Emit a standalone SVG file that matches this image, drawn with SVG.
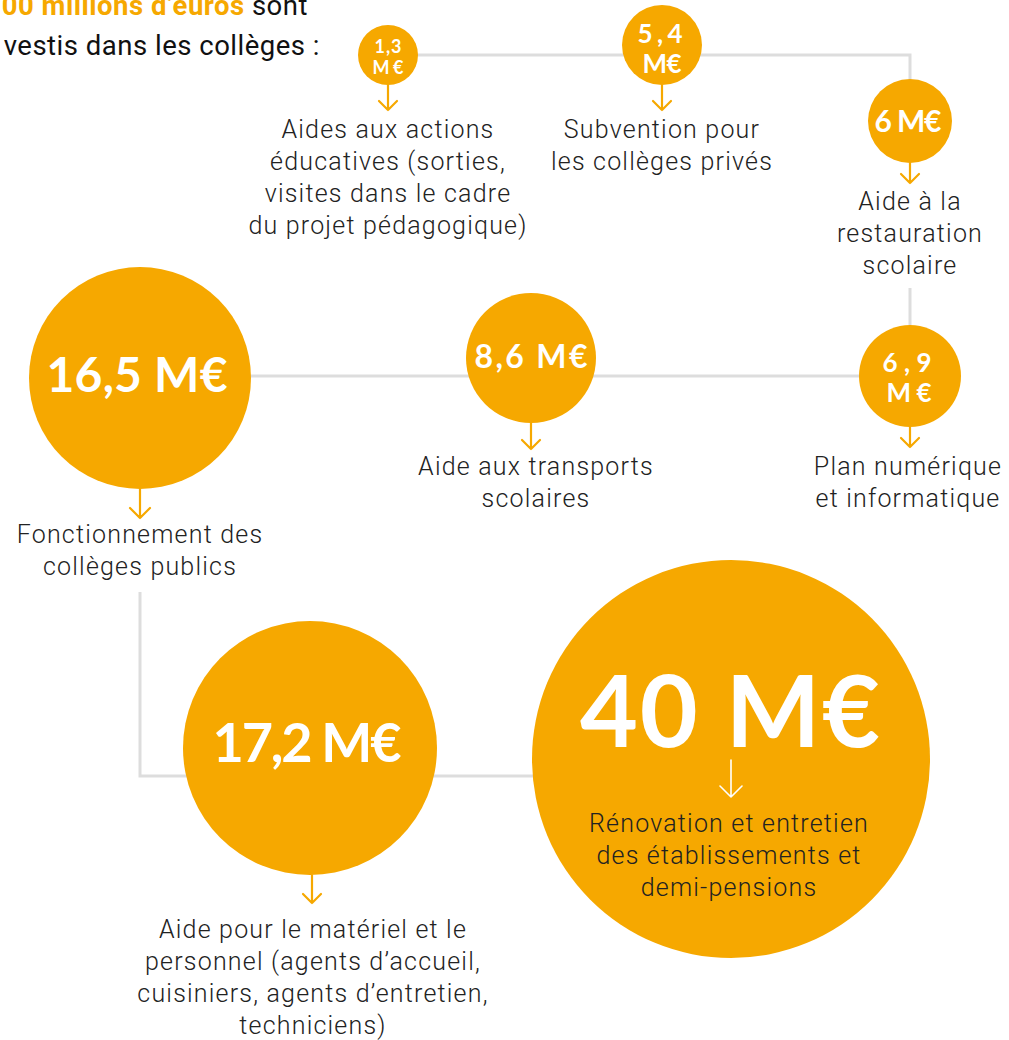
<svg xmlns="http://www.w3.org/2000/svg" width="1009" height="1040" viewBox="0 0 1009 1040">
<style>
.bg{fill:#ffffff}
.conn{fill:none;stroke:#dddddd;stroke-width:3}
.circ{fill:#F6A800}
.num{font-family:Lato,"Noto Sans",sans-serif;font-weight:700;fill:#ffffff;text-anchor:middle}
.lbl{font-family:"Roboto Light",Roboto,"Liberation Sans",sans-serif;font-weight:300;font-size:25px;letter-spacing:1.2px;fill:#222222;text-anchor:middle}
.arr{fill:none;stroke:#F6A800;stroke-width:2.2;stroke-linecap:round;stroke-linejoin:round}
.arrw{fill:none;stroke:#ffffff;stroke-width:1.6;stroke-linecap:round;stroke-linejoin:round}
.intro{font-family:Roboto,"Liberation Sans",sans-serif;font-size:27.5px;letter-spacing:0.5px;fill:#111111;text-anchor:end}
</style>
<rect class="bg" x="0" y="0" width="1009" height="1040"/>
<g id="connectors">
<path class="conn" d="M388 55 H910 V121"/>
<path class="conn" d="M910 288 V376"/>
<path class="conn" d="M140 376 H910"/>
<path class="conn" d="M140 592 V776 H731"/>
</g>
<g id="intro">
<text class="intro" x="308" y="15"><tspan fill="#F6A800" font-weight="700">00 millions d’euros</tspan> sont</text>
<text class="intro" x="320" y="55">vestis dans les collèges :</text>
</g>
<g id="n13">
<circle class="circ" cx="388" cy="55" r="30"/>
<text class="num" x="388" y="53" font-size="18" textLength="27" lengthAdjust="spacing">1,3</text>
<text class="num" x="388" y="74" font-size="18" textLength="31" lengthAdjust="spacing">M€</text>
<path class="arr" d="M388 85 V110 M379 101 L388 110 L397 101"/>
<text class="lbl" x="388" y="138">Aides aux actions</text>
<text class="lbl" x="388" y="170">éducatives (sorties,</text>
<text class="lbl" x="388" y="202">visites dans le cadre</text>
<text class="lbl" x="388" y="234">du projet pédagogique)</text>
</g>
<g id="n54">
<circle class="circ" cx="662" cy="45" r="40"/>
<text class="num" x="660" y="43" font-size="26" textLength="45" lengthAdjust="spacing">5,4</text>
<text class="num" x="662" y="73" font-size="26" textLength="39" lengthAdjust="spacing">M€</text>
<path class="arr" d="M662 85 V110 M653 101 L662 110 L671 101"/>
<text class="lbl" x="662" y="138">Subvention pour</text>
<text class="lbl" x="662" y="170">les collèges privés</text>
</g>
<g id="n6">
<circle class="circ" cx="910" cy="121" r="42"/>
<text class="num" x="908" y="132" font-size="30" textLength="67" lengthAdjust="spacing">6 M€</text>
<path class="arr" d="M910 163 V183 M901 174 L910 183 L919 174"/>
<text class="lbl" x="910" y="210">Aide à la</text>
<text class="lbl" x="910" y="242">restauration</text>
<text class="lbl" x="910" y="274">scolaire</text>
</g>
<g id="n165">
<circle class="circ" cx="140" cy="378" r="111"/>
<text class="num" x="137" y="392" font-size="48" textLength="181" lengthAdjust="spacing">16,5 M€</text>
<path class="arr" d="M140 489 V518 M130 508 L140 518 L150 508"/>
<text class="lbl" x="140" y="543">Fonctionnement des</text>
<text class="lbl" x="140" y="575">collèges publics</text>
</g>
<g id="n86">
<circle class="circ" cx="531" cy="358" r="65"/>
<text class="num" x="531" y="368" font-size="32" textLength="113" lengthAdjust="spacing">8,6 M€</text>
<path class="arr" d="M531 423 V449 M522 440 L531 449 L540 440"/>
<text class="lbl" x="536" y="475">Aide aux transports</text>
<text class="lbl" x="536" y="507">scolaires</text>
</g>
<g id="n69">
<circle class="circ" cx="910" cy="376" r="51"/>
<text class="num" x="907" y="372" font-size="26" textLength="49" lengthAdjust="spacing">6,9</text>
<text class="num" x="909" y="402" font-size="26" textLength="45" lengthAdjust="spacing">M€</text>
<path class="arr" d="M910 427 V447 M901 438 L910 447 L919 438"/>
<text class="lbl" x="908" y="475">Plan numérique</text>
<text class="lbl" x="908" y="507">et informatique</text>
</g>
<g id="n172">
<circle class="circ" cx="310" cy="748" r="127"/>
<text class="num" x="307" y="762" font-size="54" textLength="189" lengthAdjust="spacing">17,2 M€</text>
<path class="arr" d="M312 875 V903 M303 894 L312 903 L321 894"/>
<text class="lbl" x="313" y="938">Aide pour le matériel et le</text>
<text class="lbl" x="313" y="970">personnel (agents d’accueil,</text>
<text class="lbl" x="313" y="1002">cuisiniers, agents d’entretien,</text>
<text class="lbl" x="313" y="1034">techniciens)</text>
</g>
<g id="n40">
<circle class="circ" cx="731" cy="759" r="199"/>
<text class="num" x="730" y="747" font-size="100" textLength="300" lengthAdjust="spacing">40 M€</text>
<path class="arrw" d="M731 760 V797 M720 786 L731 797 L742 786"/>
<text class="lbl" x="729" y="832">Rénovation et entretien</text>
<text class="lbl" x="729" y="864">des établissements et</text>
<text class="lbl" x="729" y="896">demi-pensions</text>
</g>
</svg>
